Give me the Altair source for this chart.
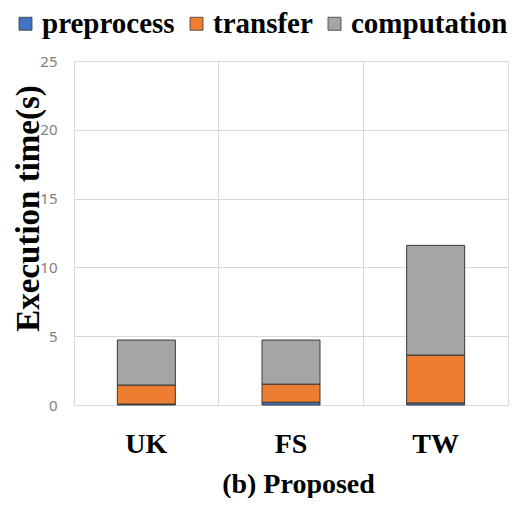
import altair as alt
import pandas as pd

datasets = ["UK", "FS", "TW"]
phases = ["preprocess", "transfer", "computation"]
preprocess = [0.07, 0.20, 0.15]
transfer = [1.38, 1.32, 3.48]
computation = [3.27, 3.20, 7.97]
colors = ["#4472C4", "#ED7D31", "#A5A5A5"]
y_ticks = [0, 5, 10, 15, 20, 25]

rows = []
for i, d in enumerate(datasets):
    for j, (p, vals) in enumerate(zip(phases, [preprocess, transfer, computation])):
        rows.append({"dataset": d, "phase": p, "value": vals[i], "order": j})
df = pd.DataFrame(rows)

serif = "Liberation Serif"

chart = (
    alt.Chart(df)
    .mark_bar(size=58, stroke="#3a3a3a", strokeWidth=1)
    .encode(
        x=alt.X(
            "dataset:N",
            sort=datasets,
            scale=alt.Scale(paddingInner=0, paddingOuter=0),
            axis=alt.Axis(
                title="(b) Proposed",
                labelAngle=0,
                labelFont=serif,
                labelFontSize=28,
                labelFontWeight="bold",
                labelColor="#000000",
                labelBaseline="alphabetic",
                labelPadding=47,
                ticks=False,
                tickSize=0,
                grid=True,
                gridColor="#d9d9d9",
                bandPosition=0,
                domainColor="#d9d9d9",
                titleFont=serif,
                titleFontSize=28,
                titleFontWeight="bold",
                titleColor="#000000",
                titleBaseline="alphabetic",
                titleAlign="center",
                titleX=224,
                titleY=87,
            ),
        ),
        y=alt.Y(
            "value:Q",
            stack="zero",
            scale=alt.Scale(domain=[0, 25], nice=False),
            axis=alt.Axis(
                title="Execution time(s)",
                values=y_ticks,
                labelFont="Noto Sans",
                labelFontSize=15,
                labelColor="#808080",
                labelPadding=17,
                ticks=False,
                tickSize=0,
                domain=False,
                gridColor="#d9d9d9",
                titleFont=serif,
                titleFontSize=33,
                titleFontWeight="bold",
                titleColor="#000000",
                titleAngle=-90,
                titleBaseline="alphabetic",
                titleX=-36,
                titleY=147,
            ),
        ),
        color=alt.Color(
            "phase:N",
            sort=phases,
            scale=alt.Scale(domain=phases, range=colors),
            legend=alt.Legend(
                title=None,
                orient="none",
                direction="horizontal",
                legendX=-63,
                legendY=-52,
                padding=0,
                symbolType="square",
                symbolSize=169,
                symbolStrokeColor="#3a3a3a",
                symbolStrokeWidth=0.8,
                labelFont=serif,
                labelFontSize=29,
                labelFontWeight="bold",
                labelColor="#000000",
                labelOffset=2,
                labelLimit=0,
                columnPadding=7,
            ),
        ),
        order=alt.Order("order:Q"),
    )
    .properties(
        width=434,
        height=344,
        autosize=alt.AutoSizeParams(type="none"),
        padding={"left": 66, "top": 53, "right": 8, "bottom": 93},
    )
    .configure_view(stroke="#d9d9d9")
    .configure(background="white")
)

chart.save("out.html", embed_options={"renderer": "svg", "actions": False})
